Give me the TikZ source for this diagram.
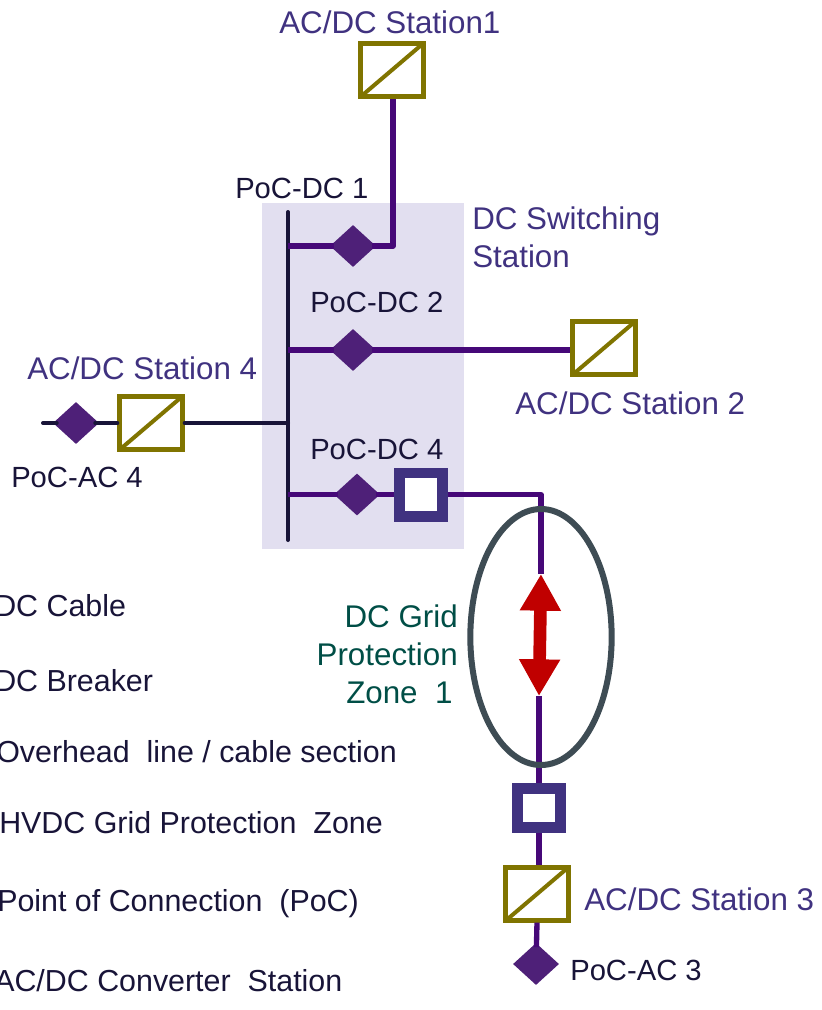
\documentclass[tikz,border=0pt]{standalone}
\usepackage{fontspec}
\setmainfont{Liberation Sans}
\usepackage{tikz}
\definecolor{cableline}{RGB}{70, 8, 120}
\definecolor{busline}{RGB}{24, 20, 56}
\definecolor{pocfill}{RGB}{78, 32, 120}
\definecolor{stationline}{RGB}{128, 116, 0}
\definecolor{breakerline}{RGB}{64, 50, 128}
\definecolor{switchfill}{RGB}{226, 223, 240}
\definecolor{zoneline}{RGB}{62, 76, 84}
\definecolor{zonetext}{RGB}{0, 78, 70}
\definecolor{arrowred}{RGB}{192, 0, 0}
\usetikzlibrary{shapes.geometric, arrows.meta, positioning}

\tikzset{
    station/.style={draw=stationline, line width=3.5pt, fill=white, minimum width=47pt, minimum height=39.5pt, inner sep=0pt},
    breaker/.style={draw=breakerline, line width=8pt, fill=white, minimum width=32.5pt, minimum height=32.5pt, inner sep=0pt},
    poc/.style={diamond, fill=pocfill, minimum width=34.5pt, minimum height=31.5pt, inner sep=0pt},
    cable/.style={draw=cableline, line width=4pt},
    bus/.style={draw=busline, line width=3pt, line cap=round},
    stationlabel/.style={text=breakerline, font=\fontsize{23.5}{28.5}\selectfont, inner sep=0pt, align=left},
    poclabel/.style={text=busline, font=\fontsize{21.9}{26}\selectfont, inner sep=0pt},
    legend/.style={text=busline, anchor=west, font=\fontsize{22.8}{26}\selectfont, inner sep=0pt}
}

\begin{document}
\begin{tikzpicture}[x=0.75pt, y=-0.75pt]
    \clip (0,0) rectangle (821,1010);
    \useasboundingbox (0,0) rectangle (821,1010);

    \node[fill=switchfill, minimum width=151.5pt, minimum height=259.5pt, inner sep=0pt] (switching) at (363,376) {};

    \coordinate (bustop) at (288,212);
    \coordinate (busend) at (288,540);
    \coordinate (busa) at (288,246);
    \coordinate (busb) at (288,350);
    \coordinate (busc) at (288,423);
    \coordinate (busd) at (288,494.5);
    \coordinate (corna) at (393,246);
    \coordinate (cornb) at (541,494.5);
    \coordinate (acend) at (43,423);
    \coordinate (tiptop) at (541,574);
    \coordinate (tipbot) at (539,696);

    \node[station] (stationa) at (392,70) {};
    \node[station] (stationb) at (604,348) {};
    \node[station] (stationc) at (537,894) {};
    \node[station] (stationd) at (151,423) {};
    \foreach \st in {stationa, stationb, stationc, stationd} {
        \draw[stationline, line width=3pt, shorten <=1.5pt, shorten >=1.5pt] (\st.south west) -- (\st.north east);
    }

    \node[breaker] (breakera) at (421,494.5) {};
    \node[breaker, minimum height=29.5pt] (breakerb) at (539,808) {};

    \node[poc] (poca) at (353,246) {};
    \node[poc] (pocb) at (353,350) {};
    \node[poc] (pocd) at (357,494.5) {};
    \node[poc] (poce) at (536,964) {};
    \node[poc] (pocf) at (76,423) {};

    \draw[bus] (bustop) -- (busend);
    \draw[bus] (busc) -- (stationd);
    \draw[bus, shorten >=-3pt] (stationd) -- (pocf);
    \draw[bus, shorten <=-3pt] (pocf) -- (acend);

    \draw[cable, shorten >=-3pt] (busa) -- (poca);
    \draw[cable, line join=round, shorten <=-3pt] (poca) -- (corna) -- (corna |- stationa.south);
    \draw[cable, shorten >=-3pt] (busb) -- (pocb);
    \draw[cable, shorten <=-3pt] (pocb) -- (pocb -| stationb.west);
    \draw[cable, shorten >=-3pt] (busd) -- (pocd);
    \draw[cable, shorten <=-3pt] (pocd) -- (breakera);
    \draw[cable, line join=round] (breakera.east) -- (cornb) -- (tiptop);
    \draw[cable] (tipbot) -- (breakerb.north);
    \draw[cable] (breakerb.south) -- (breakerb.south |- stationc.north);
    \draw[cable, shorten >=-3pt] (stationc.south) -- (poce);

    \node[draw=zoneline, ellipse, line width=4.5pt, minimum width=106pt, minimum height=192pt, inner sep=0pt] (zone) at (541,637) {};
    \draw[draw=arrowred, line width=9.5pt, {Triangle[length=27.5pt, width=29pt]}-{Triangle[length=27.5pt, width=29pt]}] (tiptop) -- (tipbot);

    \node[stationlabel, anchor=west] (labela) at (279,22) {AC/DC Station1};
    \node[stationlabel, anchor=west] (labelb) at (515,403) {AC/DC Station 2};
    \node[stationlabel, anchor=west] (labelc) at (584,899) {AC/DC Station 3};
    \node[stationlabel, anchor=west] (labeld) at (27,368) {AC/DC Station 4};
    \node[stationlabel, anchor=north west] (labelswitch) at (472,207) {DC Switching\\Station};

    \node[poclabel, anchor=west] (labelpoca) at (235,188) {PoC-DC 1};
    \node[poclabel, anchor=west] (labelpocb) at (310,302) {PoC-DC 2};
    \node[poclabel, anchor=west] (labelpocd) at (310,449) {PoC-DC 4};
    \node[poclabel, anchor=west] (labelpoce) at (570,970) {PoC-AC 3};
    \node[poclabel, anchor=west] (labelpocf) at (11,477) {PoC-AC 4};

    \node[text=zonetext, font=\fontsize{23.5}{28.5}\selectfont, align=right, anchor=east, inner sep=0pt] (labelzone) at (458,654) {DC Grid\\Protection\\Zone~~1\,};

    \node[legend] (legenda) at (-6,606) {DC Cable};
    \node[legend] (legendb) at (-6,681) {DC Breaker};
    \node[legend] (legendc) at (-4,752) {Overhead~~line / cable section};
    \node[legend] (legendd) at (-1,823) {HVDC Grid Protection~~Zone};
    \node[legend] (legende) at (-3,904) {Point of Connection~~(PoC)};
    \node[legend] (legendf) at (-6,981) {AC/DC Converter~~Station};
\end{tikzpicture}
\end{document}
